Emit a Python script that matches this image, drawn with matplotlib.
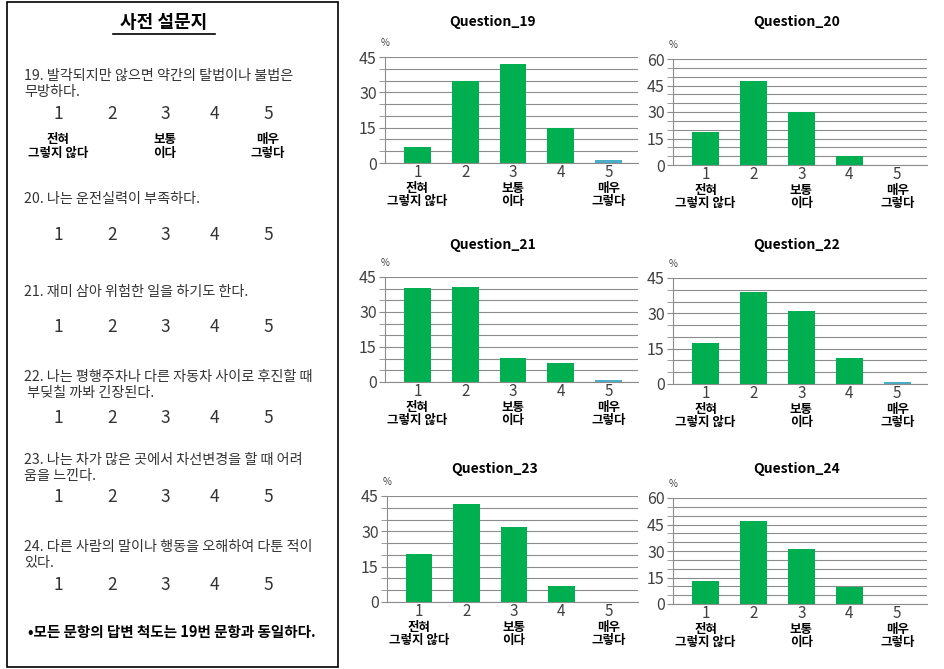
import matplotlib
matplotlib.use('Agg')
import matplotlib.pyplot as plt
from matplotlib.patches import Rectangle
from matplotlib.ticker import MultipleLocator

plt.rcParams['font.family'] = ['Noto Sans CJK KR', 'DejaVu Sans']

# Data.
categories = [1, 2, 3, 4, 5]
anchor_labels = ['전혀\n그렇지 않다', '', '보통\n이다', '', '매우\n그렇다']
titles = ['Question_19', 'Question_20', 'Question_21',
          'Question_22', 'Question_23', 'Question_24']
q19 = [6.7, 35.0, 42.2, 15.0, 1.4]
q20 = [18.5, 47.3, 29.9, 4.9, 0.0]
q21 = [40.2, 40.6, 10.4, 8.1, 0.85]
q22 = [17.4, 39.1, 31.0, 11.1, 1.0]
q23 = [20.2, 41.4, 31.7, 6.6, 0.0]
q24 = [12.8, 46.8, 31.0, 9.4, 0.0]
ymaxes = [45, 60, 45, 45, 45, 60]

survey_title = '사전 설문지'
questions = [
    ['19. 발각되지만 않으면 약간의 탈법이나 불법은', '무방하다.'],
    ['20. 나는 운전실력이 부족하다.'],
    ['21. 재미 삼아 위험한 일을 하기도 한다.'],
    ['22. 나는 평행주차나 다른 자동차 사이로 후진할 때', ' 부딪칠 까봐 긴장된다.'],
    ['23. 나는 차가 많은 곳에서 차선변경을 할 때 어려', '움을 느낀다.'],
    ['24. 다른 사람의 말이나 행동을 오해하여 다툰 적이', '있다.'],
]
note = '•모든 문항의 답변 척도는 19번 문항과 동일하다.'

# Styles.
GREEN = '#00B050'
BLUE = '#4BACC6'
GRID = '#8c8c8c'
TXT = '#404040'
W, H = 945, 669

fig = plt.figure(figsize=(W / 100, H / 100), dpi=100)

# Left panel: questionnaire drawn in pixel coordinates.
bg = fig.add_axes([0, 0, 1, 1])
bg.set_xlim(0, W)
bg.set_ylim(H, 0)
bg.axis('off')
bg.add_patch(Rectangle((7, 2), 331, 665, fill=False, lw=1.2, ec='black'))
bg.text(164, 22, survey_title, ha='center', va='center', fontsize=13,
        fontweight='bold')
bg.plot([113, 215], [34, 34], color='black', lw=1.2)

q_y = [76, 199, 292, 377, 460, 547]
scale_y = [114, 235, 327, 418, 497, 585]
scale_x = [58, 112, 165, 214, 268]
for lines, qy, sy in zip(questions, q_y, scale_y):
    for i, line in enumerate(lines):
        bg.text(24, qy + 16 * i, line, ha='left', va='center', fontsize=10.2,
                color='#333333')
    for c, sx in zip(categories, scale_x):
        bg.text(sx, sy, str(c), ha='center', va='center', fontsize=12.5,
                color='#333333')
for lbl, sx in zip(anchor_labels, scale_x):
    if lbl:
        bg.text(sx, 133, lbl, ha='center', va='top', fontsize=9,
                fontweight='bold', linespacing=1.05)
bg.text(172, 632, note, ha='center', va='center', fontsize=10.5,
        fontweight='bold')

# Charts.
series = [q19, q20, q21, q22, q23, q24]
boxes = [(385, 638, 57, 163), (673, 927, 59, 165),
         (385, 638, 277, 382), (673, 927, 278, 384),
         (387, 638, 496, 602), (673, 927, 498, 604)]
title_dist = [35, 37, 32, 33, 27, 29]
colors = [GREEN, GREEN, GREEN, GREEN, BLUE]

for k, (vals, box) in enumerate(zip(series, boxes)):
    x0, x1, y0, y1 = box
    ax = fig.add_axes([x0 / W, 1 - y1 / H, (x1 - x0) / W, (y1 - y0) / H])
    ax.bar(categories, vals, width=0.56, color=colors, zorder=3)
    ax.set_xlim(0.32, 5.62)
    ax.set_ylim(0, ymaxes[k])
    ax.yaxis.set_major_locator(MultipleLocator(15))
    ax.yaxis.set_minor_locator(MultipleLocator(5))
    ax.yaxis.grid(True, which='both', color=GRID, lw=0.8)
    ax.set_axisbelow(True)
    for s in ['top', 'right']:
        ax.spines[s].set_visible(False)
    for s in ['left', 'bottom']:
        ax.spines[s].set_color(GRID)
        ax.spines[s].set_linewidth(0.8)
    ax.tick_params(axis='y', which='both', length=4, color=GRID,
                   labelsize=11.5, labelcolor=TXT, pad=2)
    ax.tick_params(axis='x', length=0, labelsize=11, labelcolor=TXT, pad=1)
    ax.set_xticks(categories)
    ax.set_xticklabels([str(c) for c in categories])
    for c, lbl in zip(categories, anchor_labels):
        if lbl:
            ax.annotate(lbl, xy=(c, 0), xycoords=('data', 'axes fraction'),
                        xytext=(0, -13.5), textcoords='offset points',
                        ha='center', va='top', fontsize=9,
                        fontweight='bold', linespacing=1.05)
    ax.annotate('%', xy=(0, 1), xycoords='axes fraction', xytext=(0, 10),
                textcoords='offset points', ha='center', va='center',
                fontsize=7, color=TXT)
    tx = 0.427 if k % 2 == 0 else 0.488
    ax.annotate(titles[k], xy=(tx, 1), xycoords='axes fraction',
                xytext=(0, title_dist[k] / 1.389), textcoords='offset points',
                ha='center', va='center', fontsize=10, fontweight='bold')

fig.savefig('out.png', dpi=100)
